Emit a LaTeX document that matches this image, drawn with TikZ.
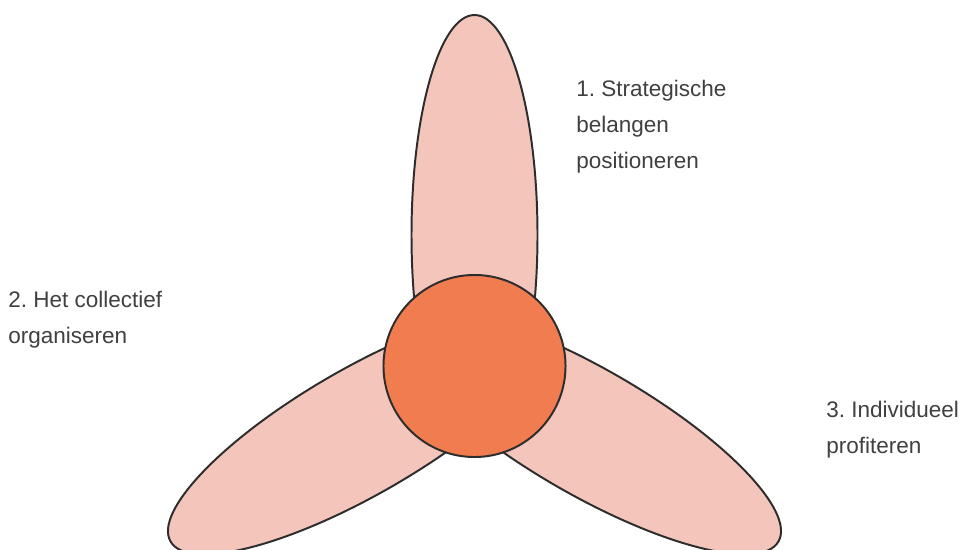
\documentclass[tikz,border=0pt]{standalone}
\usepackage{fontspec}
\setmainfont{Liberation Sans}
\usetikzlibrary{positioning}
\frenchspacing

\definecolor{petalfill}{RGB}{244,197,186}
\definecolor{corefill}{RGB}{240,124,80}
\definecolor{edgegray}{RGB}{45,45,45}
\definecolor{textgray}{RGB}{64,64,64}

\begin{document}
\begin{tikzpicture}[
    x=0.025cm, y=0.025cm,
    petal/.style={draw=edgegray, line width=1.4pt, fill=petalfill},
    core/.style={circle, draw=edgegray, line width=1.4pt, fill=corefill, inner sep=0pt, minimum size=4.55cm},
    label/.style={anchor=base west, align=left, inner sep=0pt, text=textgray, font=\fontsize{16pt}{25.5pt}\selectfont}
]
    \clip (0,0) rectangle (962,549);

    % --- PETAL CENTRES ---
    \coordinate (hub) at (474.5,183);
    \coordinate (top_c) at (474.5,314);
    \coordinate (left_c) at (361.1,117.5);
    \coordinate (right_c) at (587.9,117.5);

    % --- THE THREE PETALS ---
    \draw[petal, rotate around={90:(top_c)}] (top_c) ellipse [x radius=220, y radius=63];
    \draw[petal, rotate around={30:(left_c)}] (left_c) ellipse [x radius=220, y radius=63];
    \draw[petal, rotate around={-30:(right_c)}] (right_c) ellipse [x radius=220, y radius=63];

    % --- CENTRE DISC ---
    \node[core] (core) at (hub) {};

    % --- LABELS (anchored on the last line) ---
    \node[label] (lbl_strat) at (576,381) {1. Strategische\\belangen\\positioneren};
    \node[label] (lbl_coll) at (8,206) {2. Het collectief\\organiseren};
    \node[label] (lbl_indiv) at (826,96) {3. Individueel\\profiteren};

\end{tikzpicture}
\end{document}
